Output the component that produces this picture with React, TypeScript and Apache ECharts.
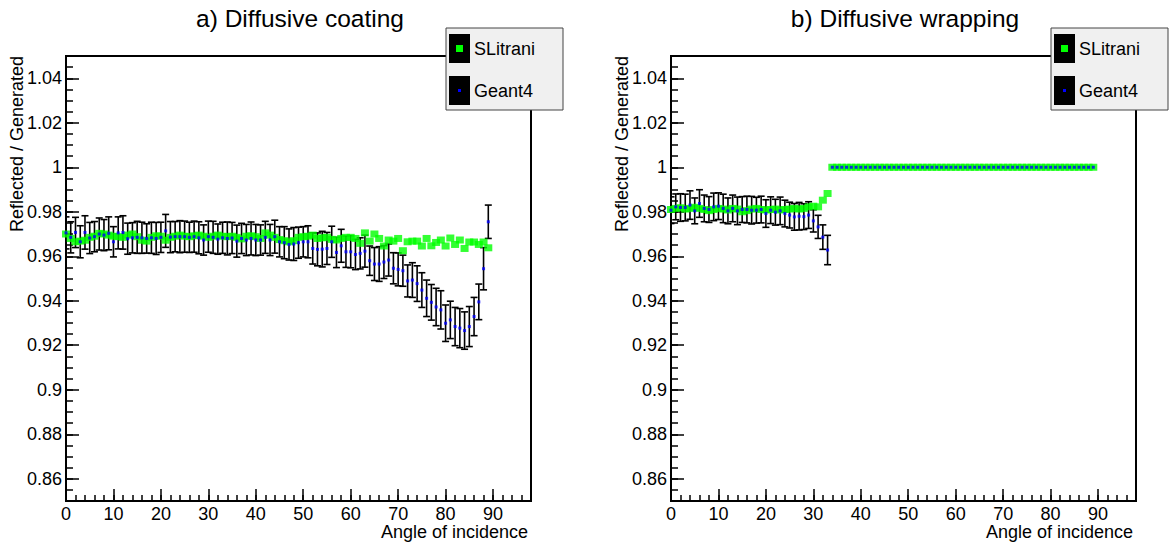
import React, { useEffect, useRef } from 'react';
import * as echarts from 'echarts';

const FONT = "'Liberation Sans', Arial, Helvetica, sans-serif";

const angles = [
  0, 1, 2, 3, 4, 5, 6, 7, 8, 9, 10, 11, 12, 13, 14, 15, 16, 17, 18, 19,
  20, 21, 22, 23, 24, 25, 26, 27, 28, 29, 30, 31, 32, 33, 34, 35, 36, 37, 38, 39,
  40, 41, 42, 43, 44, 45, 46, 47, 48, 49, 50, 51, 52, 53, 54, 55, 56, 57, 58, 59,
  60, 61, 62, 63, 64, 65, 66, 67, 68, 69, 70, 71, 72, 73, 74, 75, 76, 77, 78, 79,
  80, 81, 82, 83, 84, 85, 86, 87, 88, 89,
];

const xTickLabels = ['0', '10', '20', '30', '40', '50', '60', '70', '80', '90'];
const yTickLabels = ['0.86', '0.88', '0.9', '0.92', '0.94', '0.96', '0.98', '1', '1.02', '1.04'];

const titles = ['a) Diffusive coating', 'b) Diffusive wrapping'];
const legendNames = ['SLitrani', 'Geant4'];
const xTitle = 'Angle of incidence';
const yTitle = 'Reflected / Generated';

// Panel a
const slitraniA = [
  0.9700, 0.9680, 0.9665, 0.9668, 0.9672, 0.9685, 0.9690, 0.9703, 0.9700, 0.9695,
  0.9690, 0.9688, 0.9685, 0.9695, 0.9700, 0.9688, 0.9672, 0.9668, 0.9685, 0.9692,
  0.9690, 0.9672, 0.9685, 0.9690, 0.9695, 0.9690, 0.9688, 0.9692, 0.9695, 0.9690,
  0.9685, 0.9690, 0.9695, 0.9690, 0.9688, 0.9690, 0.9685, 0.9678, 0.9690, 0.9692,
  0.9688, 0.9680, 0.9705, 0.9695, 0.9685, 0.9675, 0.9670, 0.9665, 0.9670, 0.9685,
  0.9688, 0.9690, 0.9695, 0.9680, 0.9683, 0.9685, 0.9676, 0.9673, 0.9680, 0.9685,
  0.9685, 0.9680, 0.9658, 0.9705, 0.9668, 0.9700, 0.9680, 0.9646, 0.9673, 0.9668,
  0.9680, 0.9625, 0.9665, 0.9668, 0.9668, 0.9646, 0.9680, 0.9647, 0.9662, 0.9673,
  0.9646, 0.9682, 0.9653, 0.9673, 0.9635, 0.9664, 0.9664, 0.9653, 0.9664, 0.9638,
];
const geant4A = [
  0.9705, 0.9685, 0.9707, 0.9665, 0.9707, 0.9682, 0.9688, 0.9700, 0.9695, 0.9703,
  0.9665, 0.9705, 0.9707, 0.9679, 0.9683, 0.9685, 0.9683, 0.9680, 0.9683, 0.9680,
  0.9685, 0.9714, 0.9686, 0.9688, 0.9688, 0.9688, 0.9685, 0.9688, 0.9683, 0.9673,
  0.9688, 0.9685, 0.9677, 0.9683, 0.9680, 0.9682, 0.9668, 0.9680, 0.9673, 0.9680,
  0.9673, 0.9673, 0.9685, 0.9673, 0.9688, 0.9665, 0.9661, 0.9653, 0.9655, 0.9661,
  0.9665, 0.9665, 0.9635, 0.9631, 0.9632, 0.9635, 0.9665, 0.9617, 0.9647, 0.9620,
  0.9620, 0.9608, 0.9613, 0.9623, 0.9580, 0.9565, 0.9565, 0.9574, 0.9583, 0.9546,
  0.9541, 0.9535, 0.9489, 0.9493, 0.9477, 0.9448, 0.9411, 0.9393, 0.9372, 0.9359,
  0.9299, 0.9314, 0.9284, 0.9277, 0.9266, 0.9284, 0.9329, 0.9395, 0.9544, 0.9755,
];
const errA = [
  0.0072, 0.0070, 0.0068, 0.0072, 0.0075, 0.0070, 0.0068, 0.0072, 0.0070, 0.0074,
  0.0068, 0.0072, 0.0075, 0.0070, 0.0068, 0.0072, 0.0070, 0.0066, 0.0070, 0.0072,
  0.0068, 0.0074, 0.0070, 0.0068, 0.0072, 0.0070, 0.0068, 0.0070, 0.0072, 0.0068,
  0.0070, 0.0072, 0.0068, 0.0070, 0.0074, 0.0070, 0.0072, 0.0068, 0.0070, 0.0074,
  0.0070, 0.0068, 0.0072, 0.0070, 0.0074, 0.0068, 0.0072, 0.0070, 0.0074, 0.0070,
  0.0068, 0.0072, 0.0070, 0.0074, 0.0080, 0.0072, 0.0070, 0.0068, 0.0074, 0.0070,
  0.0072, 0.0068, 0.0070, 0.0072, 0.0066, 0.0074, 0.0078, 0.0074, 0.0072, 0.0070,
  0.0074, 0.0070, 0.0072, 0.0078, 0.0080, 0.0078, 0.0082, 0.0080, 0.0084, 0.0086,
  0.0082, 0.0084, 0.0086, 0.0088, 0.0084, 0.0090, 0.0086, 0.0080, 0.0095, 0.0075,
];

// Panel b
const slitraniB = [
  0.9810, 0.9815, 0.9818, 0.9812, 0.9815, 0.9820, 0.9815, 0.9810, 0.9805, 0.9810,
  0.9815, 0.9812, 0.9808, 0.9815, 0.9812, 0.9800, 0.9805, 0.9812, 0.9815, 0.9810,
  0.9808, 0.9810, 0.9812, 0.9808, 0.9810, 0.9812, 0.9815, 0.9812, 0.9815, 0.9822,
  0.9825, 0.9822, 0.9852, 0.9882, 1.0, 1.0, 1.0, 1.0, 1.0, 1.0,
  1.0, 1.0, 1.0, 1.0, 1.0, 1.0, 1.0, 1.0, 1.0, 1.0,
  1.0, 1.0, 1.0, 1.0, 1.0, 1.0, 1.0, 1.0, 1.0, 1.0,
  1.0, 1.0, 1.0, 1.0, 1.0, 1.0, 1.0, 1.0, 1.0, 1.0,
  1.0, 1.0, 1.0, 1.0, 1.0, 1.0, 1.0, 1.0, 1.0, 1.0,
  1.0, 1.0, 1.0, 1.0, 1.0, 1.0, 1.0, 1.0, 1.0, 1.0,
];
const geant4B = [
  0.9807, 0.9822, 0.9819, 0.9819, 0.9830, 0.9804, 0.9837, 0.9815, 0.9810, 0.9822,
  0.9825, 0.9815, 0.9804, 0.9815, 0.9804, 0.9810, 0.9810, 0.9807, 0.9807, 0.9810,
  0.9792, 0.9807, 0.9798, 0.9804, 0.9792, 0.9785, 0.9777, 0.9780, 0.9778, 0.9785,
  0.9759, 0.9732, 0.9686, 0.9628, 1.0, 1.0, 1.0, 1.0, 1.0, 1.0,
  1.0, 1.0, 1.0, 1.0, 1.0, 1.0, 1.0, 1.0, 1.0, 1.0,
  1.0, 1.0, 1.0, 1.0, 1.0, 1.0, 1.0, 1.0, 1.0, 1.0,
  1.0, 1.0, 1.0, 1.0, 1.0, 1.0, 1.0, 1.0, 1.0, 1.0,
  1.0, 1.0, 1.0, 1.0, 1.0, 1.0, 1.0, 1.0, 1.0, 1.0,
  1.0, 1.0, 1.0, 1.0, 1.0, 1.0, 1.0, 1.0, 1.0, 1.0,
];
const errB = [
  0.0060, 0.0058, 0.0062, 0.0060, 0.0064, 0.0058, 0.0062, 0.0060, 0.0058, 0.0062,
  0.0060, 0.0064, 0.0058, 0.0060, 0.0062, 0.0058, 0.0060, 0.0062, 0.0058, 0.0060,
  0.0062, 0.0060, 0.0058, 0.0062, 0.0060, 0.0058, 0.0060, 0.0062, 0.0058, 0.0060,
  0.0050, 0.0052, 0.0055, 0.0066, 0, 0, 0, 0, 0, 0,
  0, 0, 0, 0, 0, 0, 0, 0, 0, 0,
  0, 0, 0, 0, 0, 0, 0, 0, 0, 0,
  0, 0, 0, 0, 0, 0, 0, 0, 0, 0,
  0, 0, 0, 0, 0, 0, 0, 0, 0, 0,
  0, 0, 0, 0, 0, 0, 0, 0, 0, 0,
];

const panels = [
  { green: slitraniA, blue: geant4A, err: errA },
  { green: slitraniB, blue: geant4B, err: errB },
];

const GRID_LEFT = [66, 671];
const GRID_TOP = 56;
const GRID_W = 465;
const GRID_H = 445;
const TICK_FONT = 18;

function buildOption() {
  const grid: any[] = [];
  const xAxis: any[] = [];
  const yAxis: any[] = [];
  const series: any[] = [];
  const graphic: any[] = [];

  panels.forEach((p, i) => {
    const left = GRID_LEFT[i];
    grid.push({
      left, top: GRID_TOP, width: GRID_W, height: GRID_H,
      show: true, borderColor: '#000', borderWidth: 2, backgroundColor: 'transparent',
    });
    xAxis.push({
      gridIndex: i, type: 'value', min: 0, max: 98, interval: 10, position: 'bottom',
      axisLine: { show: true, onZero: false, lineStyle: { color: '#000', width: 2 } },
      axisTick: { show: true, inside: true, length: 12, lineStyle: { color: '#000', width: 1.5 } },
      axisLabel: {
        show: true, margin: 4, fontSize: TICK_FONT, color: '#000', fontFamily: FONT,
        formatter: (v: number) => (xTickLabels.includes(String(v)) ? String(v) : ''),
      },
      splitLine: { show: false },
    });
    xAxis.push({
      gridIndex: i, type: 'value', min: 0, max: 98, interval: 2, position: 'bottom',
      axisLine: { show: false, onZero: false },
      axisTick: { show: true, inside: true, length: 6, lineStyle: { color: '#000', width: 1.5 } },
      axisLabel: { show: false },
      splitLine: { show: false },
    });
    yAxis.push({
      gridIndex: i, type: 'value', min: 0.85, max: 1.05, splitNumber: 10, position: 'left',
      axisLine: { show: true, onZero: false, lineStyle: { color: '#000', width: 2 } },
      axisTick: { show: true, inside: true, length: 13, lineStyle: { color: '#000', width: 1.5 } },
      axisLabel: {
        show: true, margin: 4, fontSize: TICK_FONT, color: '#000', fontFamily: FONT,
        formatter: (v: number) => {
          const s = String(Number(v.toFixed(3)));
          return yTickLabels.includes(s) ? s : '';
        },
      },
      splitLine: { show: false },
    });
    yAxis.push({
      gridIndex: i, type: 'value', min: 0.85, max: 1.05, interval: 0.005, position: 'left',
      axisLine: { show: false, onZero: false },
      axisTick: { show: true, inside: true, length: 7, lineStyle: { color: '#000', width: 1.5 } },
      axisLabel: { show: false },
      splitLine: { show: false },
    });

    series.push({
      type: 'custom',
      xAxisIndex: 2 * i, yAxisIndex: 2 * i,
      clip: true,
      silent: true,
      data: angles.map((a, k) => [a, p.blue[k], p.err[k], p.err[k]]),
      encode: { x: 0, y: 1 },
      renderItem: (params: any, api: any) => {
        const x = api.value(0);
        const y = api.value(1);
        const lo = api.value(2);
        const hi = api.value(3);
        if (!lo && !hi) return null;
        const top = api.coord([x, y + hi]);
        const bot = api.coord([x, y - lo]);
        const cw = 3.5;
        const st = { stroke: '#000', lineWidth: 1.6 };
        return {
          type: 'group',
          children: [
            { type: 'line', shape: { x1: top[0], y1: top[1], x2: bot[0], y2: bot[1] }, style: st },
            { type: 'line', shape: { x1: top[0] - cw, y1: top[1], x2: top[0] + cw, y2: top[1] }, style: st },
            { type: 'line', shape: { x1: bot[0] - cw, y1: bot[1], x2: bot[0] + cw, y2: bot[1] }, style: st },
          ],
        };
      },
    });
    series.push({
      type: 'scatter', name: legendNames[0],
      xAxisIndex: 2 * i, yAxisIndex: 2 * i,
      symbol: 'rect', symbolSize: [8, 7],
      itemStyle: { color: '#00ff00' },
      silent: true,
      data: angles.map((a, k) => [a, p.green[k]]),
    });
    series.push({
      type: 'scatter', name: legendNames[1],
      xAxisIndex: 2 * i, yAxisIndex: 2 * i,
      symbol: 'rect', symbolSize: 3,
      itemStyle: { color: '#0000ff' },
      silent: true,
      data: angles.map((a, k) => [a, p.blue[k]]),
    });

    // Title
    graphic.push({
      type: 'text', x: left + GRID_W / 2 + 1.5, y: 18, z: 100,
      style: { text: titles[i], fontSize: 24.5, fontFamily: FONT, fill: '#000', align: 'center', verticalAlign: 'middle' },
    });
    // Axis titles
    graphic.push({
      type: 'text', x: left + GRID_W - 3, y: 532, z: 100,
      style: { text: xTitle, fontSize: 18, fontFamily: FONT, fill: '#000', align: 'right', verticalAlign: 'middle' },
    });
    graphic.push({
      type: 'text', x: left - 49, y: GRID_TOP, rotation: Math.PI / 2, z: 100,
      style: { text: yTitle, fontSize: 18, fontFamily: FONT, fill: '#000', align: 'right', verticalAlign: 'middle' },
    });
    // Legend
    const lx = left + 380;
    graphic.push({
      type: 'group', z: 100,
      children: [
        { type: 'rect', shape: { x: lx, y: 28, width: 117, height: 82 }, style: { fill: '#f0f0f0', stroke: '#444', lineWidth: 1 } },
        { type: 'rect', shape: { x: lx + 3, y: 34, width: 21, height: 29 }, style: { fill: '#000' } },
        { type: 'rect', shape: { x: lx + 10, y: 45, width: 7, height: 7 }, style: { fill: '#00ff00' } },
        { type: 'text', x: lx + 28, y: 49, style: { text: legendNames[0], fontSize: 18, fontFamily: FONT, fill: '#000', verticalAlign: 'middle' } },
        { type: 'rect', shape: { x: lx + 3, y: 76, width: 21, height: 29 }, style: { fill: '#000' } },
        { type: 'rect', shape: { x: lx + 12, y: 89, width: 3, height: 3 }, style: { fill: '#0000ff' } },
        { type: 'text', x: lx + 28, y: 91, style: { text: legendNames[1], fontSize: 18, fontFamily: FONT, fill: '#000', verticalAlign: 'middle' } },
      ],
    });
  });

  return {
    animation: false,
    backgroundColor: '#ffffff',
    grid, xAxis, yAxis, series, graphic,
  };
}

export default function App() {
  const ref = useRef<HTMLDivElement>(null);
  useEffect(() => {
    if (!ref.current) return;
    const chart = echarts.init(ref.current, undefined, { renderer: 'svg' });
    chart.setOption(buildOption() as any);
    return () => chart.dispose();
  }, []);
  return (
    <div
      ref={ref}
      style={{ position: 'absolute', left: 0, top: 0, width: 1170, height: 545, background: '#fff' }}
    />
  );
}
